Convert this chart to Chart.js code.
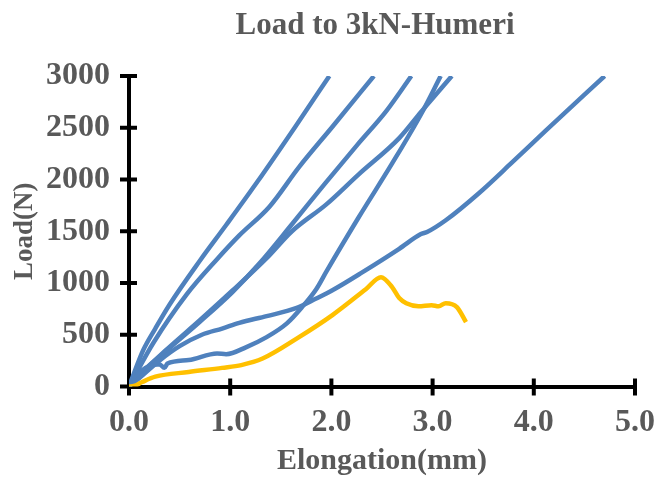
<!DOCTYPE html>
<html>
<head>
<meta charset="utf-8">
<script src="https://cdn.jsdelivr.net/npm/chart.js@4.4.0/dist/chart.umd.min.js"></script>
<style>
  body { margin: 0; background: #fff; }
</style>
</head>
<body>
<canvas id="grafico" width="672" height="479"></canvas>
<script>
// tick labels
const xTicks = [0, 1, 2, 3, 4, 5];
const yTicks = [0, 500, 1000, 1500, 2000, 2500, 3000];

// elongation (mm) / load (N), one pair per specimen
const h1x = [0, 0.05, 0.14, 0.26, 0.40, 0.70, 0.96, 1.27, 1.65, 1.98];
const h1y = [0, 130, 350, 560, 790, 1215, 1560, 1980, 2520, 3000];

const h2x = [0, 0.05, 0.24, 0.57, 0.87, 1.09, 1.39, 1.68, 2.01, 2.42];
const h2y = [0, 90, 420, 890, 1230, 1460, 1740, 2120, 2510, 3000];

const h3x = [0, 0.05, 0.37, 0.70, 1.02, 1.29, 1.61, 1.93, 2.26, 2.54, 2.79];
const h3y = [0, 60, 345, 625, 910, 1190, 1568, 1953, 2339, 2658, 3000];

const h4x = [0, 0.05, 0.37, 0.70, 1.02, 1.36, 1.61, 1.95, 2.27, 2.67, 2.89, 3.19];
const h4y = [0, 60, 355, 640, 925, 1240, 1500, 1760, 2050, 2400, 2658, 3000];

const h5x = [0, 0.12, 0.30, 0.35, 0.38, 0.59, 0.87, 0.96, 1.16, 1.36, 1.56, 1.71, 1.85, 1.95, 2.27, 2.60, 2.89, 3.08];
const h5y = [0, 150, 215, 180, 222, 256, 320, 312, 381, 477, 610, 767, 940, 1110, 1635, 2155, 2638, 3000];

const h6x = [0, 0.10, 0.30, 0.50, 0.72, 0.92, 1.09, 1.36, 1.65, 1.85, 2.01, 2.30, 2.67, 2.88, 2.95, 3.13, 3.46, 3.78, 4.11, 4.70];
const h6y = [0, 80, 250, 390, 500, 560, 615, 680, 757, 850, 930, 1100, 1330, 1470, 1495, 1606, 1870, 2160, 2465, 3000];

const h7x = [0, 0.05, 0.13, 0.26, 0.59, 0.92, 1.11, 1.32, 1.68, 2.01, 2.34, 2.49, 2.60, 2.67, 2.74, 2.86, 2.99, 3.06, 3.13, 3.24, 3.33];
const h7y = [0, 5, 43, 95, 140, 180, 207, 270, 477, 690, 940, 1056, 960, 854, 805, 776, 786, 775, 805, 767, 622];

const azul = '#4F81BD';
const amarillo = '#FFC000';
const gris = '#595959';
const fuente = "'Liberation Serif', 'Times New Roman', serif";

function puntos(xs, ys) {
    return xs.map((x, i) => ({ x: x, y: ys[i] }));
}

function serie(xs, ys, color) {
    return {
        data: puntos(xs, ys),
        borderColor: color,
        backgroundColor: color,
        borderWidth: 4.5,
        pointRadius: 0,
        cubicInterpolationMode: 'monotone',
        fill: false
    };
}

// tick marks that cross the axis line, like the spreadsheet original
const marcasCruzadas = {
    id: 'marcasCruzadas',
    beforeDatasetsDraw(chart) {
        const ctx = chart.ctx;
        const area = chart.chartArea;
        const sx = chart.scales.x;
        const sy = chart.scales.y;
        ctx.save();
        ctx.strokeStyle = '#000';
        ctx.lineWidth = 4;
        xTicks.forEach(v => {
            const px = sx.getPixelForValue(v);
            ctx.beginPath();
            ctx.moveTo(px, area.bottom - 8);
            ctx.lineTo(px, area.bottom + 9);
            ctx.stroke();
        });
        yTicks.forEach(v => {
            const py = sy.getPixelForValue(v);
            ctx.beginPath();
            ctx.moveTo(area.left - 9, py);
            ctx.lineTo(area.left + 8, py);
            ctx.stroke();
        });
        ctx.restore();
    }
};

const tituloGrafico = {
    id: 'tituloGrafico',
    afterDraw(chart) {
        const ctx = chart.ctx;
        ctx.save();
        ctx.fillStyle = gris;
        ctx.font = "bold 31px " + fuente;
        ctx.textAlign = 'center';
        ctx.textBaseline = 'middle';
        ctx.fillText('Load to 3kN-Humeri', 375, 26);
        ctx.restore();
    }
};

document.addEventListener("DOMContentLoaded", function() {
    const ctx = document.getElementById('grafico').getContext('2d');
    new Chart(ctx, {
        type: 'line',
        data: {
            datasets: [
                serie(h7x, h7y, amarillo),
                serie(h6x, h6y, azul),
                serie(h5x, h5y, azul),
                serie(h4x, h4y, azul),
                serie(h3x, h3y, azul),
                serie(h2x, h2y, azul),
                serie(h1x, h1y, azul)
            ]
        },
        options: {
            responsive: false,
            devicePixelRatio: 1,
            animation: false,
            layout: { padding: { top: 76, right: 35, left: 0, bottom: 0 } },
            plugins: {
                legend: { display: false },
                tooltip: { enabled: false }
            },
            scales: {
                x: {
                    type: 'linear',
                    min: 0,
                    max: 5,
                    afterFit: s => { s.height = 92.5; },
                    afterBuildTicks: s => { s.ticks = xTicks.map(v => ({ value: v })); },
                    grid: { display: true, drawOnChartArea: false, drawTicks: false },
                    border: { display: true, color: '#000', width: 4 },
                    ticks: {
                        color: gris,
                        padding: 17,
                        maxRotation: 0,
                        font: { family: fuente, size: 32, weight: 'bold' },
                        callback: v => Number(v).toFixed(1)
                    },
                    title: {
                        display: true,
                        text: 'Elongation(mm)',
                        color: gris,
                        padding: { top: 0, bottom: 0 },
                        font: { family: fuente, size: 30, weight: 'bold' }
                    }
                },
                y: {
                    type: 'linear',
                    min: 0,
                    max: 3000,
                    afterFit: s => { s.width = 129; },
                    afterBuildTicks: s => { s.ticks = yTicks.map(v => ({ value: v })); },
                    grid: { display: true, drawOnChartArea: false, drawTicks: false },
                    border: { display: true, color: '#000', width: 4 },
                    ticks: {
                        color: gris,
                        padding: 19,
                        font: { family: fuente, size: 32, weight: 'bold' },
                        callback: v => String(v)
                    },
                    title: {
                        display: true,
                        text: 'Load(N)',
                        color: gris,
                        padding: { top: 9, bottom: 0 },
                        font: { family: fuente, size: 27, weight: 'bold' }
                    }
                }
            }
        },
        plugins: [marcasCruzadas, tituloGrafico]
    });
});
</script>
</body>
</html>
